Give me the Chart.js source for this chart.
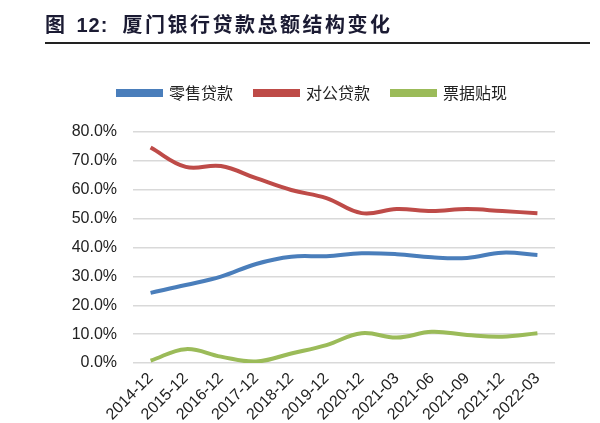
<!DOCTYPE html>
<html>
<head>
<meta charset="utf-8">
<script src="https://cdn.jsdelivr.net/npm/chart.js@4/dist/chart.umd.min.js"></script>
<style>
  html, body { margin: 0; padding: 0; background: #fff; }
  #wrap { position: relative; width: 600px; height: 423px; overflow: hidden; }
  #title {
    position: absolute; left: 45px; top: 12px;
    font: bold 20px "Noto Sans CJK SC", sans-serif;
    letter-spacing: 2.5px; color: #1b1b33; white-space: nowrap; line-height: 24px;
  }
  #title .num { font-family: "Liberation Sans", Arial, sans-serif; letter-spacing: 1px;
                margin-left: 9px; margin-right: 14px; }
  #rule { position: absolute; left: 45px; top: 42px; width: 545px; height: 2px; background: #222; }
  #c { position: absolute; left: 0; top: 0; }
</style>
</head>
<body>
<div id="wrap">
  <canvas id="c" width="600" height="423"></canvas>
  <div id="title">图<span class="num">12:</span>厦门银行贷款总额结构变化</div>
  <div id="rule"></div>
</div>
<script>
// 贷款结构占比 (%)
const periods = ['2014-12', '2015-12', '2016-12', '2017-12', '2018-12', '2019-12',
                 '2020-12', '2021-03', '2021-06', '2021-09', '2021-12', '2022-03'];
const retailLoans = [24.3, 27.0, 29.9, 34.3, 36.8, 37.0, 38.0, 37.7, 36.6, 36.4, 38.2, 37.4];
const corporateLoans = [74.6, 67.9, 68.2, 64.0, 59.9, 57.1, 51.9, 53.3, 52.6, 53.3, 52.6, 51.9];
const billDiscount = [0.8, 4.8, 2.2, 0.5, 3.3, 6.2, 10.3, 8.8, 10.8, 9.7, 9.1, 10.3];
const yTicks = [0, 10, 20, 30, 40, 50, 60, 70, 80];

function series(label, data, color) {
  return {
    label: label,
    data: data,
    borderColor: color,
    backgroundColor: color,
    borderWidth: 4,
    pointRadius: 0,
    tension: 0.4,
    fill: false
  };
}

const ctx = document.getElementById('c').getContext('2d');

new Chart(ctx, {
  type: 'line',
  data: {
    labels: periods,
    datasets: [
      series('零售贷款', retailLoans, '#4a7ebb'),
      series('对公贷款', corporateLoans, '#be4b48'),
      series('票据贴现', billDiscount, '#9bbb59')
    ]
  },
  options: {
    responsive: false,
    animation: false,
    layout: {
      padding: { top: 63, left: 70, right: 45, bottom: 0 }
    },
    plugins: {
      legend: {
        position: 'top',
        labels: {
          boxWidth: 43,
          boxHeight: 4,
          padding: 22,
          color: '#222',
          font: { family: '"Noto Sans CJK SC", sans-serif', size: 16 }
        }
      },
      // empty spacer between legend and plot
      subtitle: {
        display: true,
        text: '',
        weight: 500,
        font: { size: 10, lineHeight: 1 },
        padding: { top: 11, bottom: 0 }
      },
      title: { display: false },
      tooltip: { enabled: false }
    },
    scales: {
      x: {
        offset: true,
        grid: { display: false, drawTicks: false },
        border: { display: false },
        ticks: {
          minRotation: 45,
          maxRotation: 45,
          padding: 6,
          color: '#222',
          font: { family: '"Liberation Sans", Arial, sans-serif', size: 16 }
        },
        afterFit: scale => { scale.height = 60; }
      },
      y: {
        min: 0,
        max: 80,
        afterBuildTicks: scale => { scale.ticks = yTicks.map(v => ({ value: v })); },
        grid: { color: '#d9d9d9', lineWidth: 1.5, drawTicks: false },
        border: { display: false },
        ticks: {
          padding: 16,
          color: '#222',
          font: { family: '"Liberation Sans", Arial, sans-serif', size: 16 },
          callback: v => v.toFixed(1) + '%'
        },
        afterFit: scale => { scale.width = 63; }
      }
    }
  }
});
</script>
</body>
</html>
